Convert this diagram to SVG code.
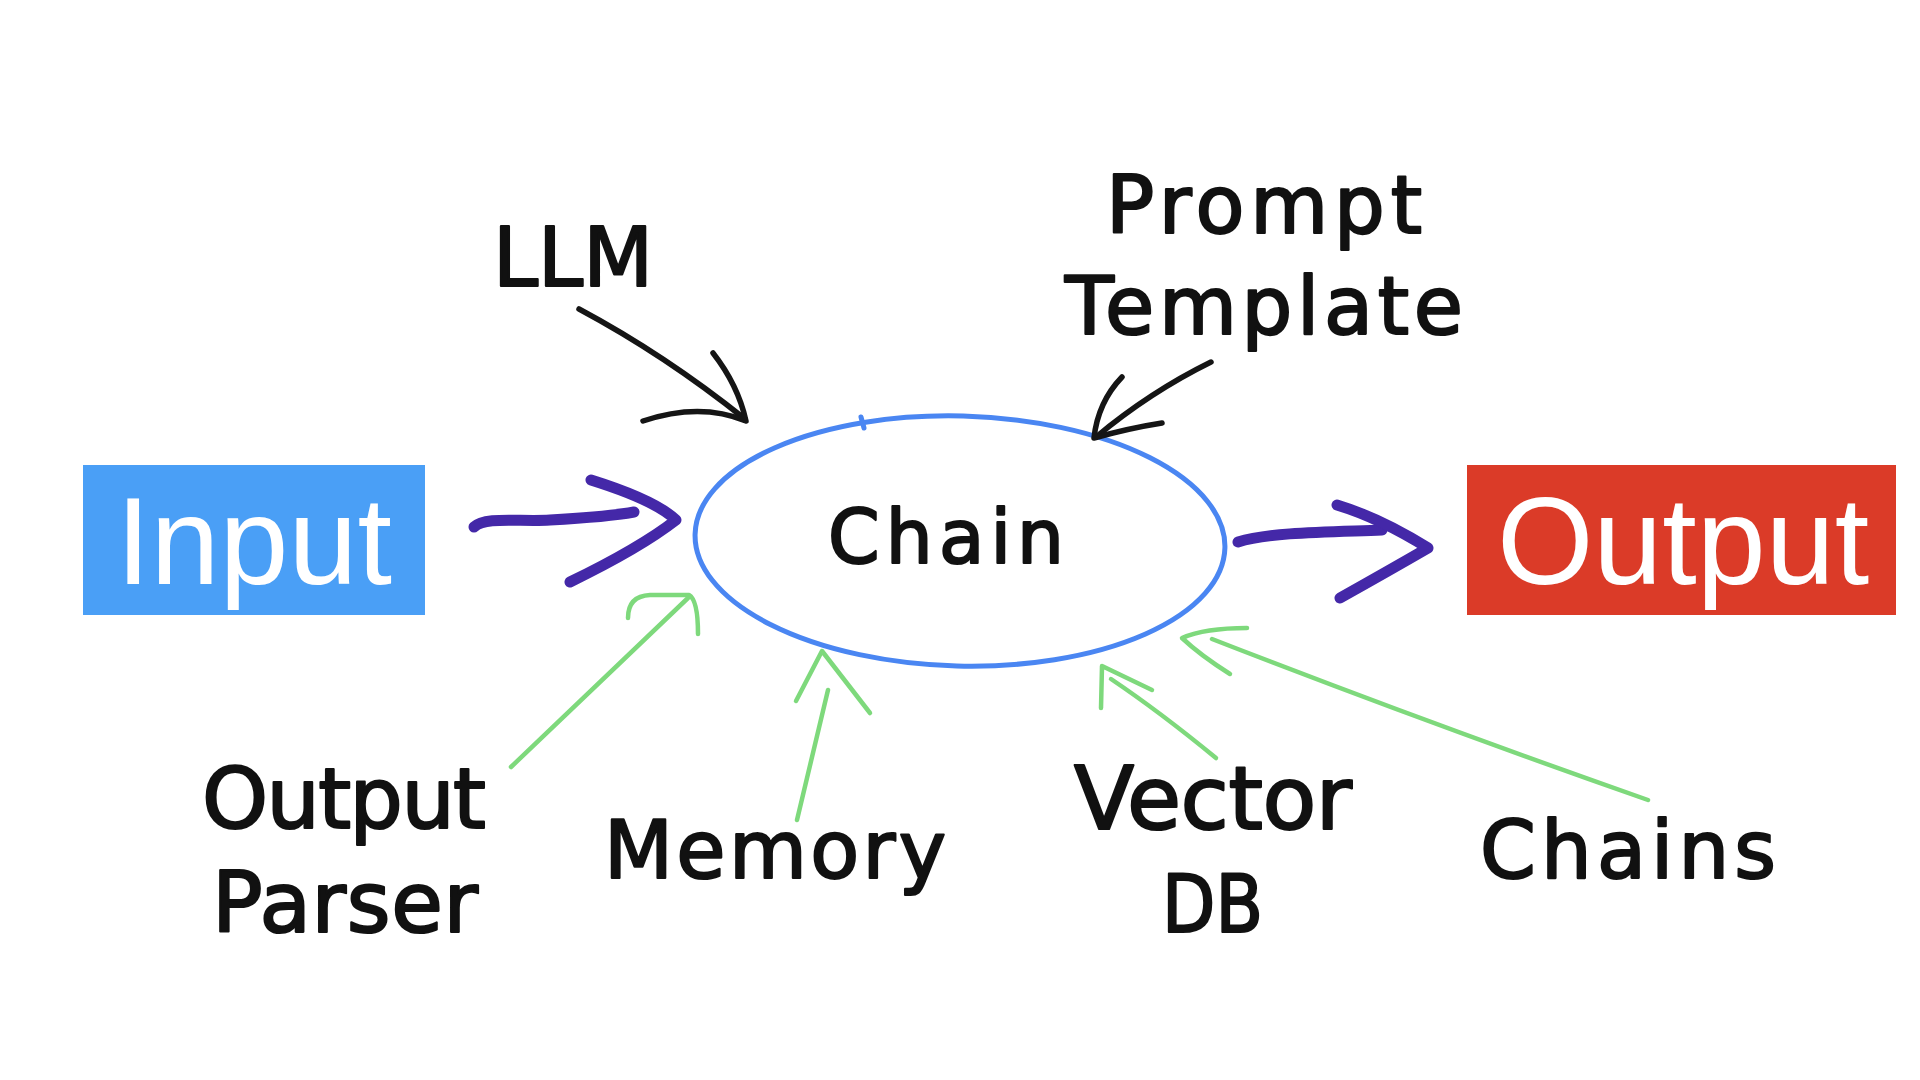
<svg xmlns="http://www.w3.org/2000/svg" width="1920" height="1080" viewBox="0 0 1920 1080">
<style>
.hw{font-family:"DejaVu Sans","Liberation Sans",sans-serif;fill:#111;stroke:#111;stroke-width:2.2;stroke-linejoin:round;}
.box-text{font-family:"Liberation Sans","Helvetica",Arial,sans-serif;fill:#fff;font-size:124px;}
.black{fill:none;stroke:#151515;stroke-width:5.5;stroke-linecap:round;stroke-linejoin:round;}
.purple{fill:none;stroke:#4428A8;stroke-width:11;stroke-linecap:round;stroke-linejoin:round;}
.green{fill:none;stroke:#7ED97C;stroke-width:4.5;stroke-linecap:round;stroke-linejoin:round;}
.ell{fill:none;stroke:#4A86F2;stroke-width:5;stroke-linecap:round;}
</style>
<rect width="1920" height="1080" fill="#ffffff"/>

<g id="input">
<rect x="83" y="465" width="342" height="150" fill="#4A9FF6"/>
<text class="box-text" x="254" y="584" text-anchor="middle">Input</text>
</g>

<g id="output">
<rect x="1467" y="465" width="429" height="150" fill="#DB3B28"/>
<text class="box-text" x="1683" y="584" text-anchor="middle">Output</text>
</g>

<g id="chain">
<ellipse class="ell" cx="960" cy="541" rx="265" ry="125" transform="rotate(1.5 960 541)"/>
<path class="ell" d="M861 417 L864 428"/>
<text class="hw" x="828" y="563" font-size="74" textLength="236" lengthAdjust="spacing">Chain</text>
</g>

<g id="llm">
<text class="hw" x="493" y="286" font-size="82" textLength="160" lengthAdjust="spacingAndGlyphs">LLM</text>
</g>

<g id="prompt-template">
<text class="hw" x="1106" y="233" font-size="80" textLength="316" lengthAdjust="spacing">Prompt</text>
<text class="hw" x="1065" y="334" font-size="80" textLength="398" lengthAdjust="spacing">Template</text>
</g>

<g id="output-parser">
<text class="hw" x="202" y="828" font-size="84" textLength="284" lengthAdjust="spacing">Output</text>
<text class="hw" x="212" y="932" font-size="84" textLength="266" lengthAdjust="spacing">Parser</text>
</g>

<g id="memory">
<text class="hw" x="604" y="878" font-size="80" textLength="342" lengthAdjust="spacing">Memory</text>
</g>

<g id="vector-db">
<text class="hw" x="1074" y="829" font-size="88" textLength="278" lengthAdjust="spacing">Vector</text>
<text class="hw" x="1162" y="932" font-size="80" textLength="101" lengthAdjust="spacingAndGlyphs">DB</text>
</g>

<g id="chains">
<text class="hw" x="1480" y="878" font-size="80" textLength="296" lengthAdjust="spacing">Chains</text>
</g>

<g id="connectors">
<!-- LLM -> Chain -->
<path class="black" d="M579 309 Q665 355 745 419"/>
<path class="black" d="M713 353 Q738 385 746 421 Q700 402 643 421"/>
<!-- Prompt Template -> Chain -->
<path class="black" d="M1211 362 Q1150 392 1096 437"/>
<path class="black" d="M1122 377 Q1098 402 1094 438 Q1130 428 1162 423"/>
<!-- Input -> Chain -->
<path class="purple" d="M474 527 C485 516 520 522 550 520 C585 518 612 516 634 512"/>
<path class="purple" d="M591 480 Q655 500 676 520 Q640 548 570 582"/>
<!-- Chain -> Output -->
<path class="purple" d="M1238 542 C1270 532 1330 532 1382 530"/>
<path class="purple" d="M1337 505 Q1380 518 1428 548 Q1390 570 1340 598"/>
<!-- Output Parser -> Chain -->
<path class="green" d="M511 767 L688 598"/>
<path class="green" d="M628 618 Q628 596 650 595 L689 595 Q698 600 698 634"/>
<!-- Memory -> Chain -->
<path class="green" d="M797 820 L828 690"/>
<path class="green" d="M796 701 L822 651 L870 713"/>
<!-- Vector DB -> Chain -->
<path class="green" d="M1216 758 Q1160 712 1111 679"/>
<path class="green" d="M1101 708 L1102 666 L1152 690"/>
<!-- Chains -> Chain -->
<path class="green" d="M1648 800 Q1420 720 1212 639"/>
<path class="green" d="M1247 628 Q1205 628 1182 638 Q1200 655 1230 674"/>
</g>
</svg>
